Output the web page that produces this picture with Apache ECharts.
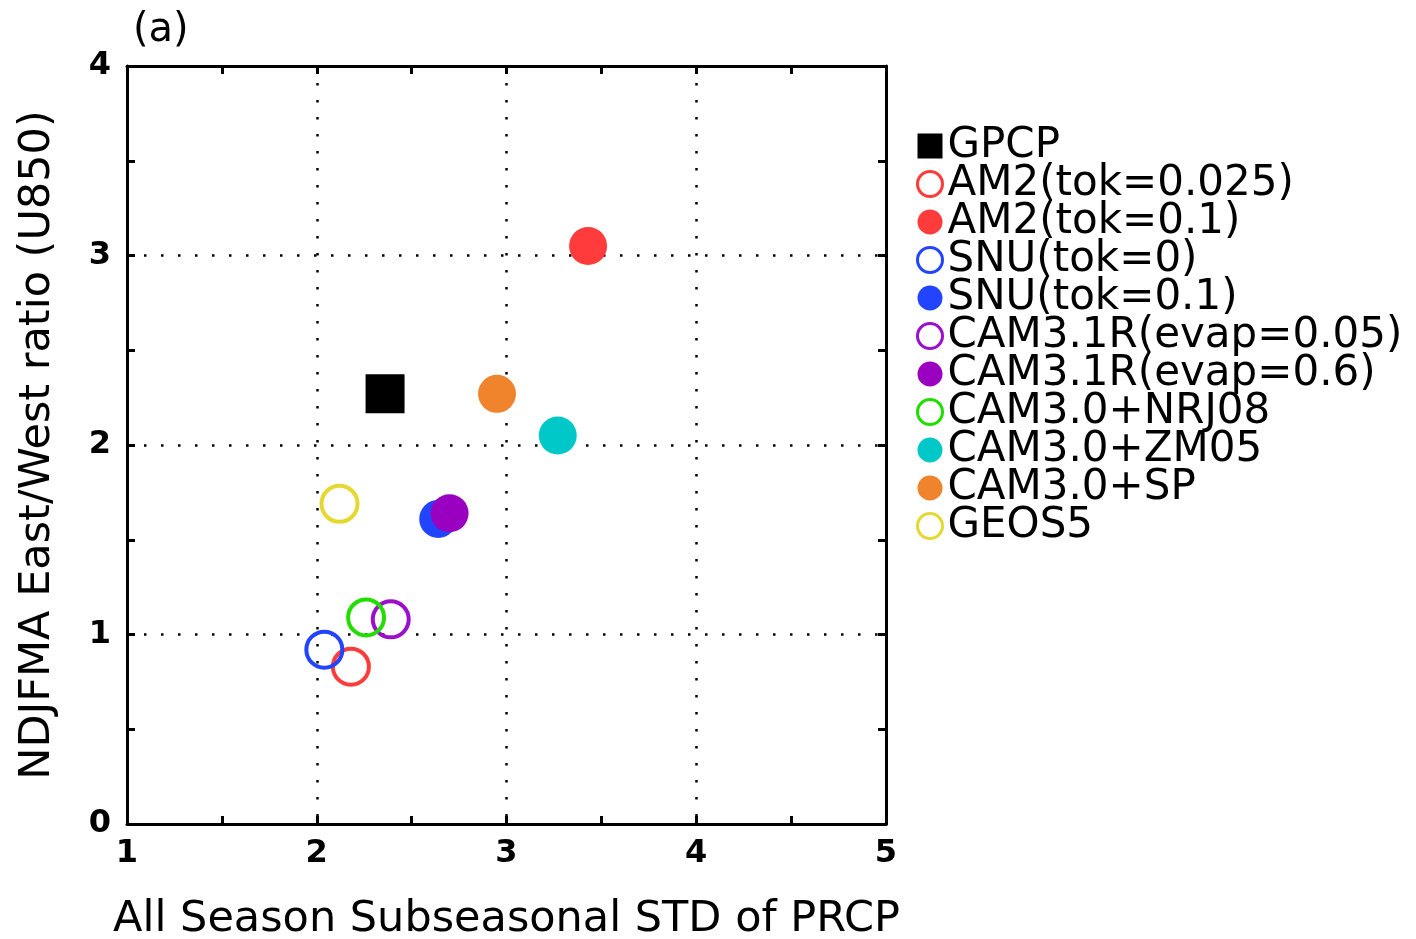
<!DOCTYPE html>
<html>
<head>
<meta charset="utf-8">
<script src="https://cdn.jsdelivr.net/npm/echarts@6/dist/echarts.min.js"></script>
<style>
html,body{margin:0;padding:0;background:#fff;}
#chart{width:1416px;height:939px;}
</style>
</head>
<body>
<div id="chart"></div>
<script>
// ---- data ----
var names = ['GPCP','AM2(tok=0.025)','AM2(tok=0.1)','SNU(tok=0)','SNU(tok=0.1)','CAM3.1R(evap=0.05)','CAM3.1R(evap=0.6)','CAM3.0+NRJ08','CAM3.0+ZM05','CAM3.0+SP','GEOS5'];
var stdPrcp = [2.36, 2.18, 3.43, 2.04, 2.64, 2.39, 2.70, 2.26, 3.27, 2.95, 2.12];
var ewRatio = [2.27, 0.83, 3.05, 0.92, 1.61, 1.08, 1.64, 1.09, 2.05, 2.27, 1.69];
var filled = [true, false, true, false, true, false, true, false, true, true, false];
var xTicks = [1, 2, 3, 4, 5];
var yTicks = [0, 1, 2, 3, 4];

// ---- styles ----
var colors = ['#000000','#ff3b3b','#ff3b3b','#2244ff','#2244ff','#9a10cc','#9a00c0','#22dd00','#00c8c8','#f0842c','#e6d832'];
var FONT = 'DejaVu Sans';

var series = names.map(function (n, i) {
  var isSquare = i === 0;
  var item = filled[i]
    ? { color: colors[i], opacity: 1 }
    : { color: 'rgba(0,0,0,0)', borderColor: colors[i], borderWidth: 4, opacity: 1 };
  return {
    name: n,
    type: 'scatter',
    xAxisIndex: 0, yAxisIndex: 0,
    symbol: isSquare ? 'rect' : 'circle',
    symbolSize: isSquare ? 39 : (filled[i] ? 38 : 36),
    itemStyle: item,
    emphasis: { disabled: true },
    data: [[stdPrcp[i], ewRatio[i]]],
    z: 3
  };
});

var legendData = names.map(function (n, i) {
  var d = { name: n, icon: i === 0 ? 'rect' : 'circle' };
  d.itemStyle = filled[i]
    ? { color: colors[i], opacity: 1 }
    : { color: 'rgba(0,0,0,0)', borderColor: colors[i], borderWidth: 3, opacity: 1 };
  return d;
});

var dotted = { show: true, lineStyle: { color: '#000', width: 2.5, type: [2.5, 14.5] } };

function axisCommon() {
  return {
    axisLine: { show: true, onZero: false, lineStyle: { color: '#000', width: 3 } },
    axisTick: { show: true, inside: true, length: 8, lineStyle: { color: '#000', width: 3 } },
    minorTick: { show: true, splitNumber: 2, length: 8, lineStyle: { color: '#000', width: 3 } }
  };
}

var chart = echarts.init(document.getElementById('chart'), null, { renderer: 'canvas' });
chart.setOption({
  animation: false,
  backgroundColor: '#fff',
  title: {
    text: '(a)', left: 128, top: 6,
    textStyle: { fontFamily: FONT, fontSize: 40, fontWeight: 'normal', color: '#000' }
  },
  grid: { left: 127, top: 66, width: 759, height: 758, containLabel: false, outerBoundsMode: 'none' },
  legend: {
    orient: 'vertical', left: 911, top: 120,
    itemWidth: 25, itemHeight: 25, itemGap: -4, itemTextGap: 6,
    selectedMode: false,
    textStyle: { fontFamily: FONT, fontSize: 42, color: '#000' },
    data: legendData
  },
  xAxis: [Object.assign(axisCommon(), {
    type: 'value', position: 'bottom', min: xTicks[0], max: xTicks[xTicks.length - 1], interval: 1,
    name: 'All Season Subseasonal STD of PRCP', nameLocation: 'middle', nameGap: 74,
    nameTextStyle: { fontFamily: FONT, fontSize: 43, color: '#000' },
    axisLabel: { fontFamily: FONT, fontSize: 32, fontWeight: 'bold', color: '#000', margin: 14 },
    splitLine: dotted
  }), Object.assign(axisCommon(), {
    type: 'value', position: 'top', min: xTicks[0], max: xTicks[xTicks.length - 1], interval: 1,
    axisLabel: { show: false }, splitLine: { show: false }
  })],
  yAxis: [Object.assign(axisCommon(), {
    type: 'value', position: 'left', min: yTicks[0], max: yTicks[yTicks.length - 1], interval: 1,
    name: 'NDJFMA East/West ratio (U850)', nameLocation: 'middle', nameGap: 68, nameRotate: 90,
    nameTextStyle: { fontFamily: FONT, fontSize: 43, color: '#000' },
    axisLabel: { fontFamily: FONT, fontSize: 32, fontWeight: 'bold', color: '#000', margin: 16 },
    splitLine: dotted
  }), Object.assign(axisCommon(), {
    type: 'value', position: 'right', min: yTicks[0], max: yTicks[yTicks.length - 1], interval: 1,
    axisLabel: { show: false }, splitLine: { show: false }
  })],
  series: series
});
</script>
</body>
</html>
